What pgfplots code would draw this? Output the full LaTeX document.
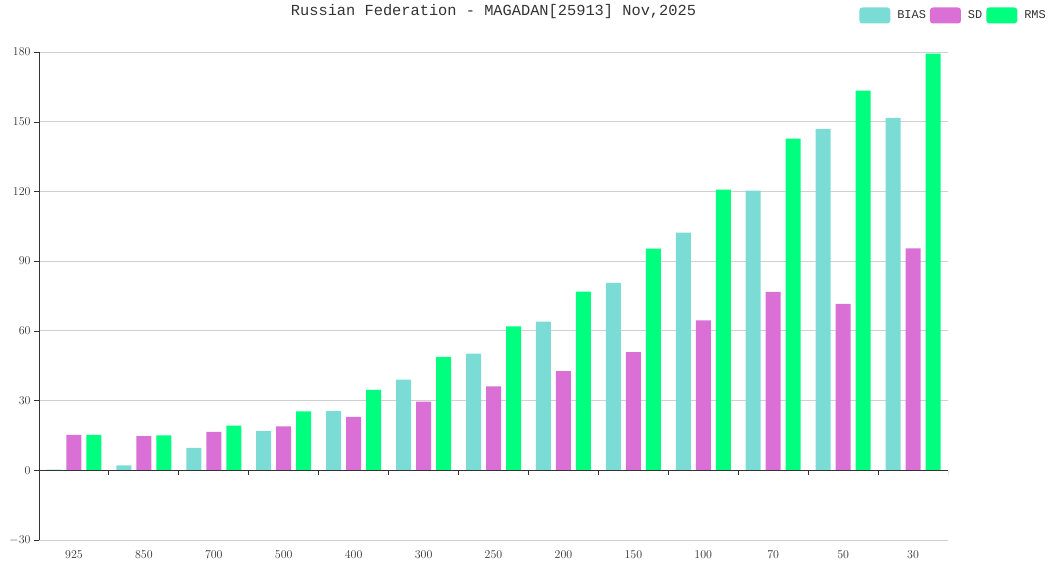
\documentclass[border=0pt]{standalone}
\usepackage{pgfplots}
\pgfplotsset{compat=1.18}
\usepackage{fontspec}
\newfontfamily\monofont{Liberation Mono}
\definecolor{cbias}{HTML}{7BDCD5}
\definecolor{csd}{HTML}{DA70D6}
\definecolor{crms}{HTML}{00FF7F}
\definecolor{axc}{HTML}{333333}
\definecolor{gridc}{HTML}{D0D0D0}
\begin{document}
\begin{tikzpicture}[x=1bp,y=1bp]
\path[use as bounding box] (0,0) rectangle (1057,-565);
\node[font=\monofont\fontsize{15.4}{18}\selectfont, text=axc] at (493.5,-12) {Russian Federation - MAGADAN[25913] Nov,2025};
\begin{axis}[
  at={(39bp,-540bp)}, anchor=south west,
  scale only axis, width=909bp, height=488bp,
  xmin=-0.5, xmax=12.5, ymin=-30, ymax=180,
  ybar=5bp, bar width=15bp,
  axis x line=bottom, axis y line=left,
  x axis line style={gridc,-},
  y axis line style={axc,-,line width=0.9bp},
  xtick={0,...,12},
  xticklabels={925,850,700,500,400,300,250,200,150,100,70,50,30},
  x tick style={draw=none},
  ytick={-30,0,30,60,90,120,150,180},
  y tick style={axc},
  tick align=outside, major tick length=5bp,
  ymajorgrids, grid style={gridc, line width=0.8bp},
  tick label style={font=\fontsize{12}{14}\selectfont, text=axc},
  xticklabel style={yshift=-2bp},
  legend columns=3,
  legend style={at={(1.1133,1.0748)}, anchor=east, draw=none, fill=none,
    font=\monofont\fontsize{12}{14}\selectfont, text=axc,
    /tikz/every odd column/.append style={column sep=5bp},
    /tikz/every even column/.append style={column sep=2bp}},
  legend image code/.code={\fill[rounded corners=3bp] (0bp,-8bp) rectangle (31bp,8bp);},
]
\addplot[fill=cbias, draw=none] coordinates {(0,0.3) (1,2.1) (2,9.6) (3,16.9) (4,25.5) (5,39.0) (6,50.2) (7,64.0) (8,80.7) (9,102.3) (10,120.4) (11,146.9) (12,151.6)};
\addplot[fill=csd, draw=none] coordinates {(0,15.2) (1,14.7) (2,16.5) (3,18.9) (4,23.0) (5,29.5) (6,36.1) (7,42.7) (8,50.9) (9,64.5) (10,76.8) (11,71.6) (12,95.5)};
\addplot[fill=crms, draw=none] coordinates {(0,15.2) (1,15.0) (2,19.2) (3,25.4) (4,34.6) (5,48.8) (6,61.9) (7,76.9) (8,95.4) (9,120.8) (10,142.7) (11,163.4) (12,179.3)};
\legend{BIAS,SD,RMS}
\draw[axc, line width=0.9bp] (axis cs:-0.5,0) -- (axis cs:12.5,0);
\pgfplotsinvokeforeach{0.5,1.5,2.5,3.5,4.5,5.5,6.5,7.5,8.5,9.5,10.5,11.5,12.5}{\draw[axc, line width=0.9bp] (axis cs:#1,0) -- ([yshift=-5bp]axis cs:#1,0);}
\end{axis}
\end{tikzpicture}
\end{document}
